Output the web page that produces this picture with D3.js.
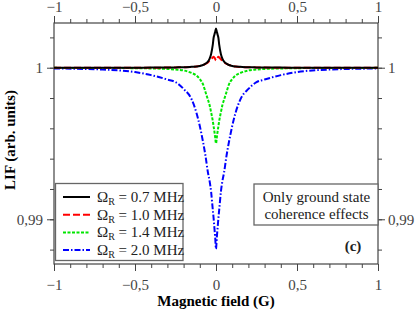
<!DOCTYPE html>
<html>
<head>
<meta charset="utf-8">
<script src="https://cdn.jsdelivr.net/npm/d3@7"></script>
<style>
  body { margin: 0; background: #fff; }
  svg text { font-family: "Liberation Serif", "DejaVu Serif", serif !important; }
</style>
</head>
<body>
<svg id="chart"></svg>
<script>
var fieldG = [-1, -0.7, -0.5, -0.4, -0.3, -0.25, -0.2, -0.15, -0.12, -0.1, -0.08, -0.065, -0.05, -0.04, -0.03, -0.02, -0.015, -0.01, -0.005,
  0, 0.005, 0.01, 0.015, 0.02, 0.03, 0.04, 0.05, 0.065, 0.08, 0.1, 0.12, 0.15, 0.2, 0.25, 0.3, 0.4, 0.5, 0.7, 1];

var lif07 = [1, 1, 1, 1.00001, 1.00001, 1.00002, 1.00003, 1.00006, 1.00008, 1.00011, 1.00018, 1.00027, 1.0004, 1.00058, 1.00091, 1.0015, 1.00196, 1.00218, 1.00238,
  1.00258, 1.00238, 1.00218, 1.00196, 1.0015, 1.00091, 1.00058, 1.0004, 1.00027, 1.00018, 1.00011, 1.00008, 1.00006, 1.00003, 1.00002, 1.00001, 1.00001, 1, 1, 1];
var lif10 = [1, 1, 1, 1, 1.00001, 1.00002, 1.00003, 1.00005, 1.00008, 1.00012, 1.00018, 1.00025, 1.00035, 1.00045, 1.00056, 1.00068, 1.00072, 1.00066, 1.00058,
  1.00048, 1.00058, 1.00066, 1.00072, 1.00068, 1.00056, 1.00045, 1.00035, 1.00025, 1.00018, 1.00012, 1.00008, 1.00005, 1.00003, 1.00002, 1.00001, 1, 1, 1, 1];
var lif14 = [0.99999, 0.99998, 0.99997, 0.99995, 0.99992, 0.99988, 0.99982, 0.99965, 0.99948, 0.99925, 0.9989, 0.9984, 0.9979, 0.99755, 0.99705, 0.9965, 0.99615, 0.9958, 0.9954,
  0.995, 0.9954, 0.9958, 0.99615, 0.9965, 0.99705, 0.99755, 0.9979, 0.9984, 0.9989, 0.99925, 0.99948, 0.99965, 0.99982, 0.99988, 0.99992, 0.99995, 0.99997, 0.99998, 0.99999];
var lif20 = [0.99995, 0.99988, 0.99971, 0.99951, 0.99922, 0.99905, 0.9986, 0.9979, 0.997, 0.99615, 0.9951, 0.9942, 0.9931, 0.99255, 0.9918, 0.99065, 0.9901, 0.98945, 0.9888,
  0.98804, 0.9888, 0.98945, 0.9901, 0.99065, 0.9918, 0.99255, 0.9931, 0.9942, 0.9951, 0.99615, 0.997, 0.9979, 0.9986, 0.99905, 0.99922, 0.99951, 0.99971, 0.99988, 0.99995];

var seriesNames = ["0.7", "1.0", "1.4", "2.0"];
var seriesColors = ["#000000", "#ff0000", "#00e600", "#0000ff"];
var seriesDash = [null, "7,3", "3,1.5", "6,2,1.5,2"];

var xMajor = [-1, -0.5, 0, 0.5, 1];
var yMajor = [0.99, 1];

var width = 416, height = 312;
var plotL = 54, plotR = 378, plotT = 23, plotB = 264;
var serif = "'Liberation Serif', 'DejaVu Serif', serif";

var svg = d3.select("#chart").attr("width", width).attr("height", height)
  .attr("font-family", serif);

var x = d3.scaleLinear().domain([-1, 1]).range([plotL, plotR]);
var y = d3.scaleLinear().domain([0.98705, 1.00295]).range([plotB, plotT]);

function fmt(d) {
  return String(+d.toFixed(3)).replace(".", ",").replace("-", "\u2212");
}

var xMinor = d3.range(-10, 11).map(function(i) { return i / 10; });
var yMinor = d3.range(0, 8).map(function(i) { return 0.988 + i * 0.002; });

var axisColor = "#444";

function drawAxis(axisFn, scale, major, minor, tx, ty, pad) {
  var gMin = svg.append("g").attr("transform", "translate(" + tx + "," + ty + ")")
    .call(axisFn(scale).tickValues(minor).tickSize(4).tickSizeOuter(0).tickFormat(""));
  var gMaj = svg.append("g").attr("transform", "translate(" + tx + "," + ty + ")")
    .call(axisFn(scale).tickValues(major).tickSize(7).tickSizeOuter(0).tickPadding(pad).tickFormat(fmt));
  [gMin, gMaj].forEach(function(g) {
    g.attr("font-family", serif).attr("font-size", 15);
    g.select(".domain").remove();
    g.selectAll("line").attr("stroke", axisColor).attr("stroke-width", 1);
  });
  gMaj.selectAll("text").attr("fill", "#444");
  return gMaj;
}

drawAxis(d3.axisBottom, x, xMajor, xMinor, 0, plotB, 8);
drawAxis(d3.axisTop, x, xMajor, xMinor, 0, plotT, 4);
drawAxis(d3.axisLeft, y, yMajor, yMinor, plotL, 0, 4);
drawAxis(d3.axisRight, y, yMajor, yMinor, plotR, 0, 3);

svg.append("rect")
  .attr("x", plotL).attr("y", plotT)
  .attr("width", plotR - plotL).attr("height", plotB - plotT)
  .attr("fill", "none").attr("stroke", axisColor).attr("stroke-width", 1.2);

svg.append("clipPath").attr("id", "plotclip")
  .append("rect").attr("x", plotL).attr("y", plotT).attr("width", plotR - plotL).attr("height", plotB - plotT);

var line = d3.line()
  .x(function(d) { return x(d[0]); })
  .y(function(d) { return y(d[1]); })
  .curve(d3.curveMonotoneX);

var allSeries = [lif07, lif10, lif14, lif20];

// blue drawn first so black stays on top
[3, 2, 1, 0].forEach(function(i) {
  var pts = fieldG.map(function(f, k) { return [f, allSeries[i][k]]; });
  svg.append("path")
    .attr("clip-path", "url(#plotclip)")
    .attr("d", line(pts))
    .attr("fill", "none")
    .attr("stroke", seriesColors[i])
    .attr("stroke-width", 2)
    .attr("stroke-dasharray", seriesDash[i]);
});

// legend
var legend = svg.append("g");
legend.append("rect")
  .attr("x", 55.5).attr("y", 183.5).attr("width", 127.5).attr("height", 77)
  .attr("fill", "#fff").attr("stroke", "#666").attr("stroke-width", 1.3);

seriesNames.forEach(function(name, i) {
  var by = 202 + i * 17.7;
  legend.append("line")
    .attr("x1", 63).attr("x2", 90)
    .attr("y1", by - 5).attr("y2", by - 5)
    .attr("stroke", seriesColors[i]).attr("stroke-width", 2)
    .attr("stroke-dasharray", seriesDash[i]);
  var t = legend.append("text").attr("x", 97).attr("y", by)
    .attr("fill", "#222").attr("font-size", 15);
  t.append("tspan").text("\u03A9");
  t.append("tspan").attr("dy", 3).attr("font-size", 10).text("R");
  t.append("tspan").attr("dy", -3).text(" = " + name + " MHz");
});

// annotation
svg.append("rect")
  .attr("x", 254).attr("y", 184).attr("width", plotR - 254).attr("height", 41)
  .attr("fill", "#fff").attr("stroke", "#666").attr("stroke-width", 1.3);
svg.append("text").attr("x", 316.5).attr("y", 202).attr("text-anchor", "middle")
  .attr("fill", "#222").attr("font-size", 15).text("Only ground state");
svg.append("text").attr("x", 316.5).attr("y", 218.5).attr("text-anchor", "middle")
  .attr("fill", "#222").attr("font-size", 15).text("coherence effects");
svg.append("text").attr("x", 353).attr("y", 251).attr("text-anchor", "middle")
  .attr("fill", "#222").attr("font-size", 15).attr("font-weight", "bold").text("(c)");

svg.append("text")
  .attr("x", (plotL + plotR) / 2).attr("y", 306)
  .attr("text-anchor", "middle")
  .attr("font-size", 15).attr("font-weight", "bold")
  .text("Magnetic field (G)");

svg.append("text")
  .attr("transform", "translate(14.5," + 140 + ") rotate(-90)")
  .attr("text-anchor", "middle")
  .attr("font-size", 15).attr("font-weight", "bold")
  .text("LIF (arb. units)");
</script>
</body>
</html>
